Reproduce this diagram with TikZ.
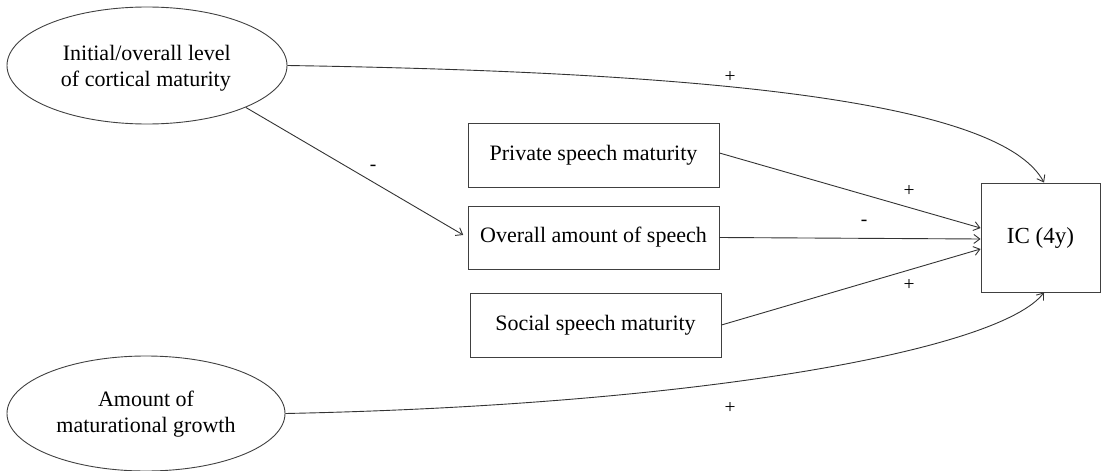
\documentclass[tikz,border=0pt]{standalone}
\usepackage{fontspec}
\setmainfont{Liberation Serif}
\usetikzlibrary{arrows.meta,shapes.geometric}
\tikzset{
  lat/.style={ellipse, draw=black!75, line width=0.9pt, inner sep=0pt},
  obs/.style={rectangle, draw=black!75, line width=0.9pt, inner sep=0pt, font=\fontsize{22}{26}\selectfont},
  txt/.style={font=\fontsize{22}{26}\selectfont, inner sep=0pt},
  path/.style={draw=black!80, line width=0.9pt, -{Straight Barb[length=6pt,width=9pt]}},
  sign/.style={font=\fontsize{19.5}{22}\selectfont, inner sep=0pt}
}
\begin{document}
\begin{tikzpicture}[x=1pt,y=-1pt]
\useasboundingbox (0,0) rectangle (1101,471);
% latent variables
\node[lat, minimum width=280pt, minimum height=117pt] (e1) at (147,65.5) {};
\node[txt, anchor=east, align=right] (t1) at (231,68) {Initial/overall level\\of cortical maturity};
\node[lat, minimum width=278pt, minimum height=115pt] (e2) at (146,413.5) {};
\node[txt, align=center] (t2) at (146,414) {Amount of\\maturational growth};
% observed variables
\node[obs, minimum width=251pt, minimum height=64pt] (pr) at (593.5,155) {Private speech maturity};
\node[obs, minimum width=251pt, minimum height=63pt] (ov) at (593.5,237.5) {Overall amount of speech};
\node[obs, minimum width=251pt, minimum height=64pt] (so) at (595.5,325) {Social speech maturity};
\node[obs, minimum width=119pt, minimum height=109pt, font=\fontsize{23}{26}\selectfont] (ic) at (1040.5,237.5) {IC (4y)};
% paths
\draw[path] (e1.east) .. controls (700,72) and (1000,100) .. ([xshift=3.5pt]ic.north);
\draw[path, shorten >=5pt] (e1.-23.4) -- (ov.west);
\draw[path] ([yshift=2pt]pr.east) -- ([yshift=9.5pt]ic.west);
\draw[path] (ov.east) -- ([yshift=-1.5pt]ic.west);
\draw[path] (so.east) -- ([yshift=-11.5pt]ic.west);
\draw[path] (e2.east) .. controls (700,405) and (1000,350) .. ([xshift=3.5pt]ic.south);
% signs
\node[sign] (s1) at (730,77) {+};
\node[sign] (s2) at (373,168) {-};
\node[sign] (s3) at (909,191) {+};
\node[sign] (s4) at (864,223) {-};
\node[sign] (s5) at (909,285) {+};
\node[sign] (s6) at (730,408) {+};
\end{tikzpicture}
\end{document}
